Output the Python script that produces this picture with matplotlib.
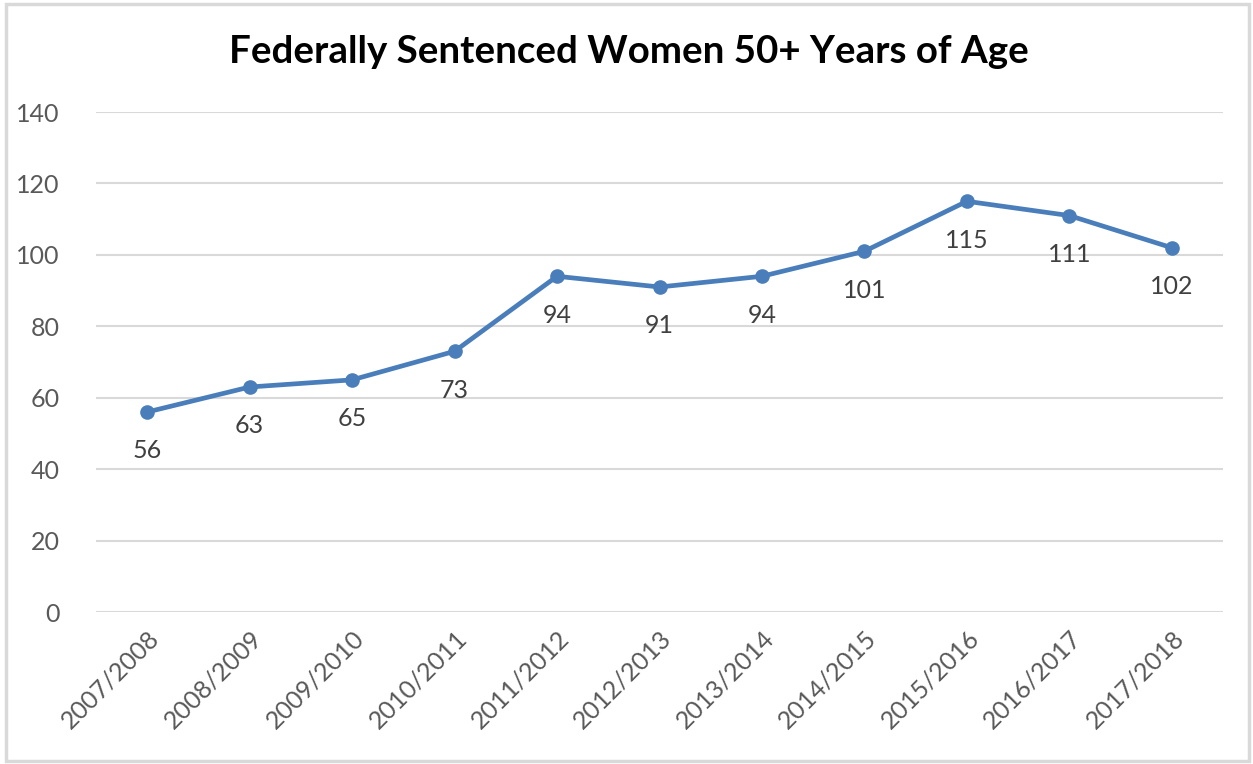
import matplotlib
matplotlib.use("Agg")
import matplotlib.pyplot as plt
from matplotlib.patches import Rectangle

years = ["2007/2008", "2008/2009", "2009/2010", "2010/2011", "2011/2012", "2012/2013",
         "2013/2014", "2014/2015", "2015/2016", "2016/2017", "2017/2018"]
values = [56, 63, 65, 73, 94, 91, 94, 101, 115, 111, 102]
yticks = [0, 20, 40, 60, 80, 100, 120, 140]
title = "Federally Sentenced Women 50+ Years of Age"

plt.rcParams['font.family'] = ['Lato', 'DejaVu Sans']

W, H = 1253, 764
fig = plt.figure(figsize=(W / 100, H / 100), dpi=100)
fig.patch.set_facecolor("white")
fig.patches.append(Rectangle((6 / W, 3 / H), (W - 10) / W, (H - 7) / H, transform=fig.transFigure,
                             fill=False, edgecolor="#d9d9d9", linewidth=2.5))

ax = fig.add_axes([96 / W, 152 / H, (1223 - 96) / W, 500 / H])
x = list(range(len(years)))
ax.plot(x, values, color="#4A7EBB", linewidth=3.4, marker="o", markersize=9.5, zorder=3)
for xi, v in zip(x, values):
    ax.annotate(str(v), (xi, v), xytext=(0, -28), textcoords="offset points",
                ha="center", va="center", fontsize=18, color="#404040")

ax.set_xlim(-0.5, len(years) - 0.5)
ax.set_ylim(0, 140)
ax.set_yticks(yticks)
ax.set_yticklabels([str(t) for t in yticks], fontsize=18, color="#595959")
ax.set_xticks(x)
ax.set_xticklabels(years, rotation=45, ha="right", rotation_mode="anchor", fontsize=18, color="#595959")
ax.tick_params(axis="both", length=0)
ax.tick_params(axis="y", pad=26)
ax.tick_params(axis="x", pad=10)
ax.grid(axis="y", color="#d9d9d9", linewidth=1.5)
ax.set_axisbelow(True)
for s in ax.spines.values():
    s.set_visible(False)

fig.text(629 / W, 1 - 52 / H, title, ha="center", va="center", fontsize=27.7, fontweight="bold", color="black")

fig.savefig("out.png", dpi=100)
